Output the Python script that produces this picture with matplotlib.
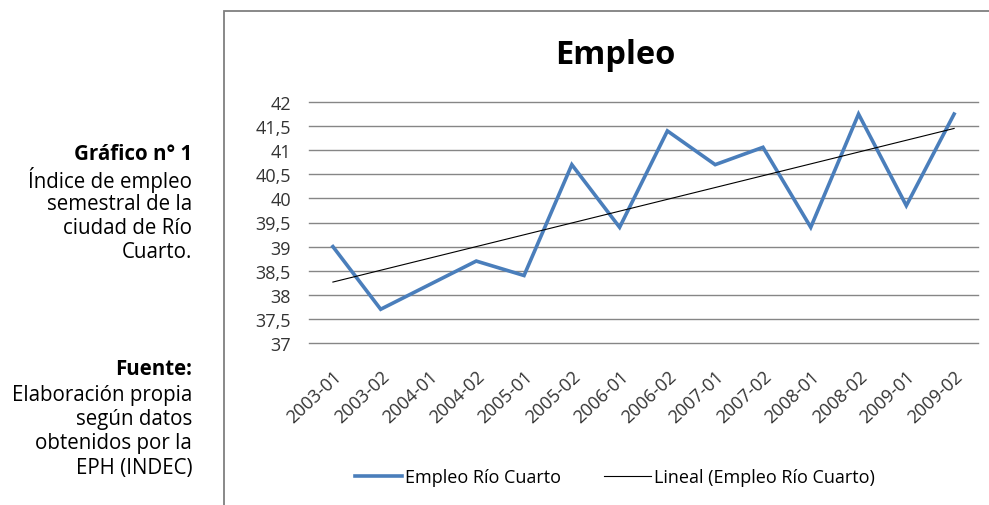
import numpy as np
import matplotlib
matplotlib.use('Agg')
import matplotlib.pyplot as plt
from matplotlib.patches import Rectangle

plt.rcParams['font.family'] = ['Open Sans', 'DejaVu Sans']

# --- datos ---
periodos = ['2003-01', '2003-02', '2004-01', '2004-02', '2005-01', '2005-02',
            '2006-01', '2006-02', '2007-01', '2007-02', '2008-01', '2008-02',
            '2009-01', '2009-02']
empleo = [39.0, 37.7, 38.2, 38.7, 38.4, 40.7, 39.4, 41.4, 40.7, 41.06,
          39.4, 41.75, 39.85, 41.75]
yticks = [37, 37.5, 38, 38.5, 39, 39.5, 40, 40.5, 41, 41.5, 42]
ytick_labels = ['37', '37,5', '38', '38,5', '39', '39,5', '40', '40,5',
                '41', '41,5', '42']

texto_grafico = ['Índice de empleo', 'semestral de la', 'ciudad de Río', 'Cuarto.']
texto_fuente = ['Elaboración propia', 'según datos', 'obtenidos por la', 'EPH (INDEC)']

W, H = 989, 506
fig = plt.figure(figsize=(W / 100, H / 100), dpi=100)

# marco del gráfico
fig.patches.append(Rectangle((224 / W, -0.1), 1.0, 1 - 12 / H + 0.1,
                             transform=fig.transFigure, fill=False,
                             edgecolor='#7f7f7f', lw=1.3))

ax = fig.add_axes([309 / W, 1 - 344 / H, (978 - 309) / W, (344 - 103) / H])
x = np.arange(len(periodos))
ax.plot(x, empleo, color='#4a7ebb', lw=2.6, solid_joinstyle='miter',
        label='Empleo Río Cuarto')

# linea de tendencia (regresion lineal)
m, b = np.polyfit(x, empleo, 1)
ax.plot(x, m * x + b, color='black', lw=0.8, label='Lineal (Empleo Río Cuarto)')

ax.set_xlim(-0.5, len(periodos) - 0.5)
ax.set_ylim(37, 42)
ax.set_yticks(yticks)
ax.set_yticklabels(ytick_labels, fontsize=13, color='#333333')
ax.set_xticks(x)
ax.set_xticklabels(periodos, rotation=43, ha='right', va='top',
                   rotation_mode='anchor', fontsize=13, color='#333333')
ax.tick_params(axis='y', length=0, pad=13)
ax.tick_params(axis='x', length=0, pad=17)
ax.grid(axis='y', color='#868686', lw=1, clip_on=False)
ax.set_axisbelow(True)
for s in ax.spines.values():
    s.set_visible(False)

fig.text(615 / W, 1 - 55 / H, 'Empleo', ha='center', va='center',
         fontsize=23.5, fontweight='bold')

fig.legend(loc='center', bbox_to_anchor=(615 / W, 1 - 478 / H), ncol=2,
           frameon=False, fontsize=13, handlelength=2.6, handletextpad=0.15,
           columnspacing=2.4)

# texto lateral
fs = 14.8
fig.text(192 / W, 1 - 155 / H, 'Gráfico n° 1', ha='right', va='center',
         fontsize=fs, fontweight='bold')
for i, t in enumerate(texto_grafico):
    fig.text(192 / W, 1 - (180 + 24 * i) / H, t, ha='right', va='center',
             fontsize=fs)
fig.text(192 / W, 1 - 370 / H, 'Fuente:', ha='right', va='center',
         fontsize=fs, fontweight='bold')
for i, t in enumerate(texto_fuente):
    fig.text(192 / W, 1 - (395 + 24.5 * i) / H, t, ha='right', va='center',
             fontsize=fs)

fig.savefig('out.png', dpi=100)
